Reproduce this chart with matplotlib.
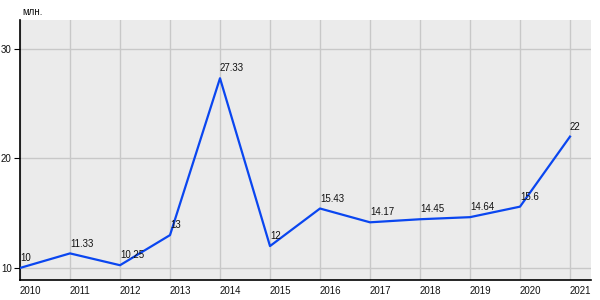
import matplotlib
matplotlib.use('Agg')
from matplotlib import pyplot as plt

plt.rcParams['font.family'] = ['Liberation Sans', 'DejaVu Sans']

years = [2010, 2011, 2012, 2013, 2014, 2015, 2016, 2017, 2018, 2019, 2020, 2021]
values = [10, 11.33, 10.25, 13, 27.33, 12, 15.43, 14.17, 14.45, 14.64, 15.6, 22]
labels = ['10', '11.33', '10.25', '13', '27.33', '12', '15.43', '14.17', '14.45', '14.64', '15.6', '22']

fig = plt.figure(figsize=(6, 3), dpi=100)
ax = fig.add_axes([20 / 600, 20 / 300, 571 / 600, 260 / 300])
ax.set_facecolor('#ebebeb')

ax.plot(years, values, color='#0a46f0', lw=1.6, zorder=3)
for x, y, s in zip(years, values, labels):
    ax.annotate(s, (x, y), xytext=(0, 3.5), textcoords='offset points',
                fontsize=7, color='#111111', ha='left', va='bottom', zorder=4)

ax.set_xlim(2010, 2021.42)
ax.set_ylim(8.9, 32.65)
ax.set_xticks(years)
ax.set_xticklabels([str(y) for y in years], ha='left')
ax.set_yticks([10, 20, 30])
ax.grid(True, color='#c8c8c8', lw=1)
ax.set_axisbelow(True)
for side in ['top', 'right']:
    ax.spines[side].set_visible(False)
for side in ['left', 'bottom']:
    ax.spines[side].set_color('black')
    ax.spines[side].set_linewidth(1.2)
ax.tick_params(axis='y', length=4, labelsize=7, pad=2, labelcolor='#111111')
ax.tick_params(axis='x', length=0, labelsize=7, pad=4, labelcolor='#111111')
fig.text(22 / 600, 1 - 12 / 300, 'млн.', fontsize=7, ha='left', va='center', color='#111111')

fig.savefig('out.png', dpi=100)
